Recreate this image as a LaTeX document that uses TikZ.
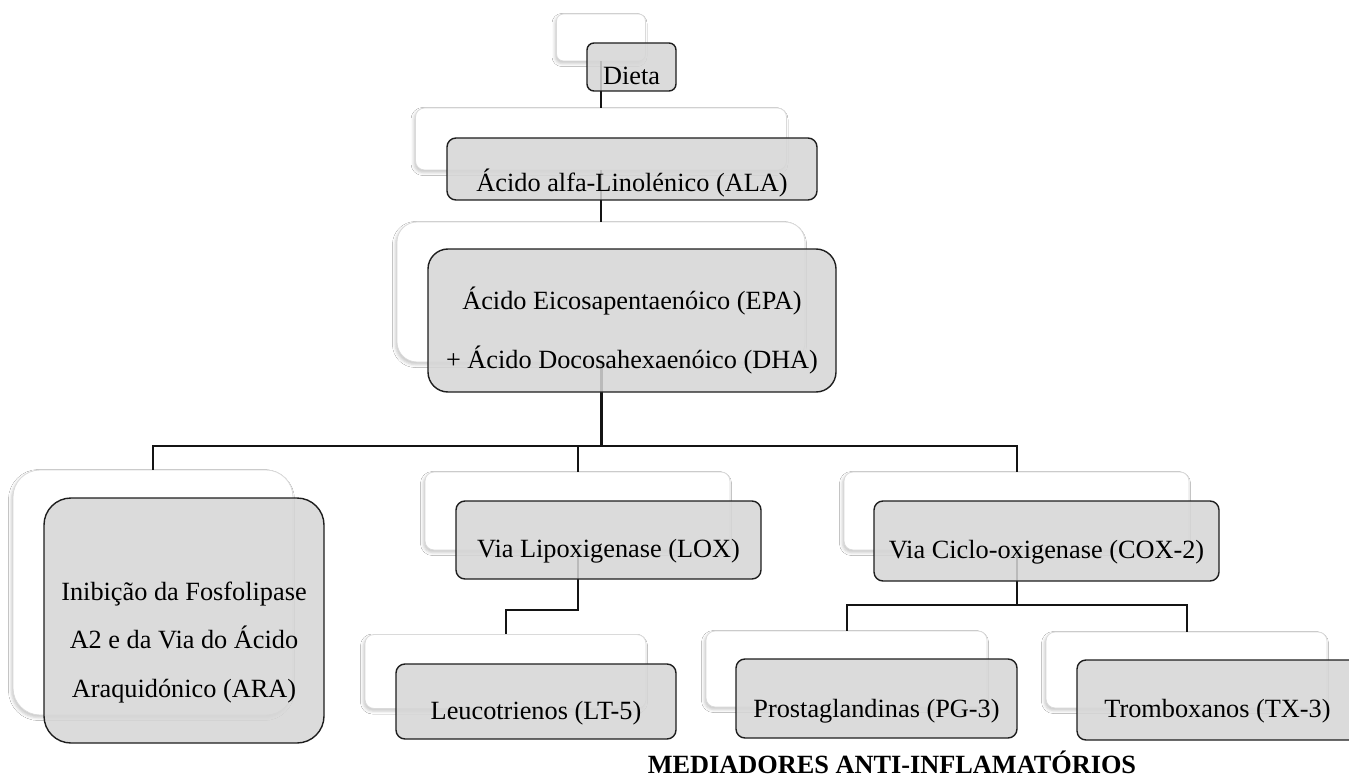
\documentclass[tikz,border=0pt]{standalone}
\usepackage{fontspec}
\setmainfont{Liberation Serif}
\usetikzlibrary{shadows.blur}
\definecolor{boxgray}{RGB}{214,214,214}
\definecolor{edgedark}{RGB}{30,30,30}
\definecolor{wedge}{RGB}{218,218,218}
\definecolor{conn}{RGB}{20,20,20}
\begin{document}
\begin{tikzpicture}[x=1pt,y=-1pt,
  wbox/.style={draw=wedge, line width=0.8pt, fill=white, rounded corners=#1, inner sep=0pt,
    blur shadow={shadow xshift=-1.5pt, shadow yshift=-2.5pt, shadow blur radius=3pt, shadow opacity=22}},
  gbox/.style={draw=edgedark, line width=1.4pt, fill=boxgray, fill opacity=0.86, rounded corners=#1, inner sep=0pt},
  txt/.style={inner sep=0pt, anchor=base, font=\fontsize{26.3}{31}\selectfont, text=black},
  link/.style={draw=conn, line width=2pt}]
\useasboundingbox (0,0) rectangle (1349,778);
\clip (0,0) rectangle (1349,778);
\fill[white] (0,0) rectangle (1349,778);
% back (white) boxes
\node[wbox=7pt, minimum width=89pt, minimum height=47pt] (dietaW) at (601,37.5) {};
\node[wbox=9pt, minimum width=371pt, minimum height=62pt] (alaW) at (601,139) {};
\node[wbox=20pt, minimum width=408pt, minimum height=140pt] (epaW) at (601,292) {};
\node[wbox=27pt, minimum width=280pt, minimum height=245pt] (inibW) at (153,592.5) {};
\node[wbox=9pt, minimum width=305pt, minimum height=78pt] (loxW) at (577.5,511) {};
\node[wbox=9pt, minimum width=345pt, minimum height=78pt] (coxW) at (1016.5,511) {};
\node[wbox=9pt, minimum width=281pt, minimum height=74pt] (leuW) at (505.5,671.5) {};
\node[wbox=9pt, minimum width=281pt, minimum height=76pt] (pgW) at (846.5,669) {};
\node[wbox=9pt, minimum width=281pt, minimum height=76pt] (txW) at (1186.5,670) {};
% connectors
\coordinate (bar) at (601,446);
\draw[link] (dietaW.south) -- (alaW.north);
\draw[link] (alaW.south) -- (epaW.north);
\draw[link, line width=3pt] (epaW.south) -- (bar);
\draw[link] (bar) -| (inibW.north);
\draw[link] (bar) -| (loxW.north);
\draw[link] (bar) -| (coxW.north);
\draw[link] (loxW.south) -- ++(0,60) -| (leuW.north);
\draw[link] (coxW.south) -- ++(0,55) -| (pgW.north);
\draw[link] (coxW.south) -- ++(0,55) -| (txW.north);
% front (grey) boxes
\node[gbox=7pt, minimum width=89pt, minimum height=48pt] (dieta) at (631.5,67) {};
\node[gbox=9pt, minimum width=370pt, minimum height=62pt] (ala) at (632,169) {};
\node[gbox=20pt, minimum width=408pt, minimum height=143pt] (epa) at (632,320.5) {};
\node[gbox=27pt, minimum width=280pt, minimum height=245pt] (inib) at (184,620.5) {};
\node[gbox=9pt, minimum width=305pt, minimum height=78pt] (lox) at (608.5,540) {};
\node[gbox=9pt, minimum width=345pt, minimum height=80pt] (cox) at (1046.5,541) {};
\node[gbox=9pt, minimum width=280pt, minimum height=75pt] (leu) at (536,701.5) {};
\node[gbox=9pt, minimum width=281pt, minimum height=79pt] (pg) at (876.5,698.5) {};
\node[gbox=9pt, minimum width=281pt, minimum height=80pt] (tx) at (1217.5,700) {};
% texts
\node[txt] (tDieta) at (dieta.center |- 0,85) {Dieta};
\node[txt] (tAla) at (ala.center |- 0,192) {Ácido alfa-Linolénico (ALA)};
\node[txt] (tEpa1) at (epa.center |- 0,309) {Ácido Eicosapentaenóico (EPA)};
\node[txt] (tEpa2) at (epa.center |- 0,368) {+ Ácido Docosahexaenóico (DHA)};
\node[txt] (tInib1) at (inib.center |- 0,600) {Inibição da Fosfolipase};
\node[txt] (tInib2) at (inib.center |- 0,648) {A2 e da Via do Ácido};
\node[txt] (tInib3) at (inib.center |- 0,697) {Araquidónico (ARA)};
\node[txt] (tLox) at (lox.center |- 0,557) {Via Lipoxigenase (LOX)};
\node[txt] (tCox) at (cox.center |- 0,558) {Via Ciclo-oxigenase (COX-2)};
\node[txt] (tLeu) at (leu.center |- 0,719) {Leucotrienos (LT-5)};
\node[txt] (tPg) at (pg.center |- 0,717) {Prostaglandinas (PG-3)};
\node[txt] (tTx) at (tx.center |- 0,717) {Tromboxanos (TX-3)};
\node[txt, font=\fontsize{26.3}{31}\selectfont\bfseries] (caption) at (892,773) {MEDIADORES ANTI-INFLAMATÓRIOS};
\end{tikzpicture}
\end{document}
